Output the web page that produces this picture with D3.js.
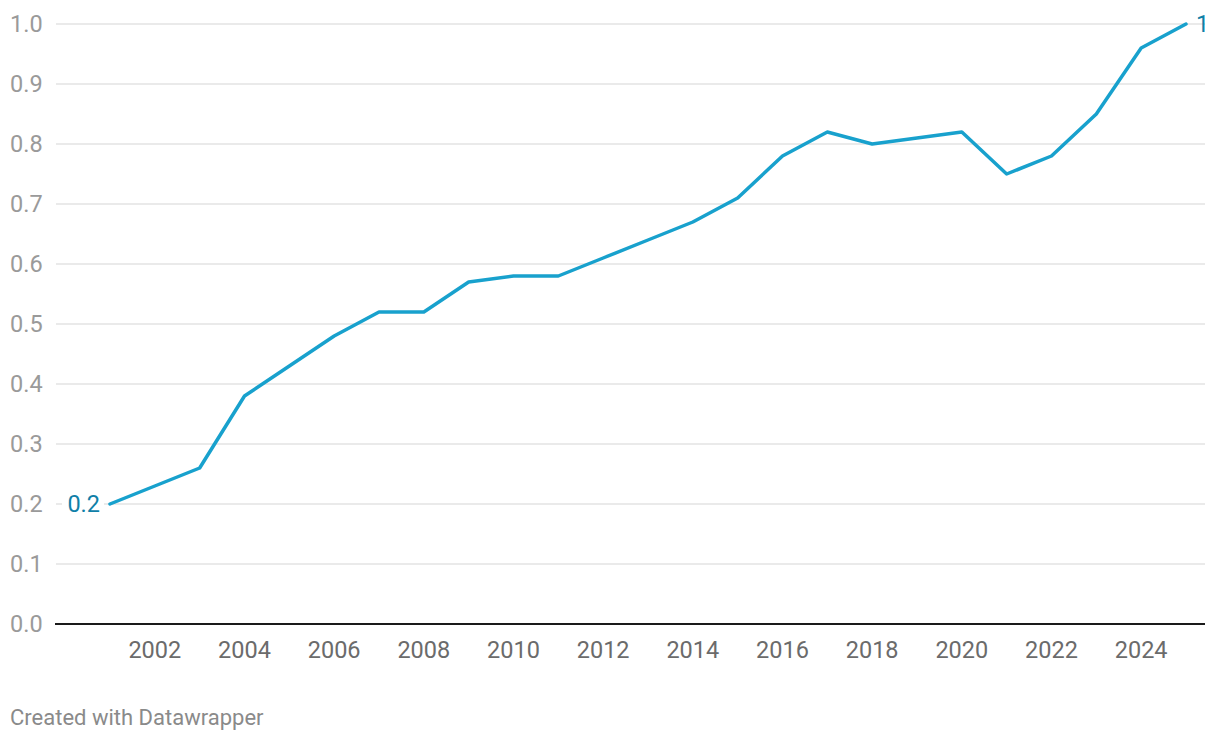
<!DOCTYPE html>
<html>
<head>
<meta charset="utf-8">
<script src="https://cdn.jsdelivr.net/npm/d3@7"></script>
<style>
  html, body { margin: 0; padding: 0; background: #fff; }
  svg { display: block; font-family: Roboto, "Noto Sans", sans-serif; }
</style>
</head>
<body>
<svg id="chart" width="1220" height="740"></svg>
<script>
const years = [2001,2002,2003,2004,2005,2006,2007,2008,2009,2010,2011,2012,2013,2014,2015,2016,2017,2018,2019,2020,2021,2022,2023,2024,2025];
const values = [0.2,0.23,0.26,0.38,0.43,0.48,0.52,0.52,0.57,0.58,0.58,0.61,0.64,0.67,0.71,0.78,0.82,0.80,0.81,0.82,0.75,0.78,0.85,0.96,1.0];
const yTicks = [0,0.1,0.2,0.3,0.4,0.5,0.6,0.7,0.8,0.9,1.0];
const xTicks = [2002,2004,2006,2008,2010,2012,2014,2016,2018,2020,2022,2024];
const footer = "Created with Datawrapper";

const svg = d3.select("#chart");
const x = d3.scaleLinear().domain([2001, 2025]).range([110, 1186]);
const y = d3.scaleLinear().domain([0, 1]).range([624, 24]);
const gridLeft = 56, gridRight = 1205;

// gridlines
svg.append("g").selectAll("line").data(yTicks.filter(d => d > 0)).join("line")
  .attr("x1", gridLeft).attr("x2", gridRight)
  .attr("y1", d => y(d)).attr("y2", d => y(d))
  .attr("stroke", "#e3e3e3").attr("stroke-width", 1.3);

// y labels
svg.append("g").selectAll("text").data(yTicks).join("text")
  .attr("x", 10).attr("y", d => y(d))
  .attr("dy", "0.35em")
  .attr("fill", "#9a9a9a").attr("font-size", 23.5)
  .text(d => d3.format(".1f")(d));

// baseline
svg.append("line")
  .attr("x1", gridLeft - 1).attr("x2", gridRight)
  .attr("y1", y(0)).attr("y2", y(0))
  .attr("stroke", "#1a1a1a").attr("stroke-width", 2);

// x labels
svg.append("g").selectAll("text").data(xTicks).join("text")
  .attr("x", d => x(d)).attr("y", 650)
  .attr("dy", "0.35em")
  .attr("text-anchor", "middle")
  .attr("fill", "#6b6b6b").attr("font-size", 23.5)
  .text(d => d);

// line
const line = d3.line().x((d, i) => x(years[i])).y(d => y(d));
svg.append("path").datum(values)
  .attr("d", line)
  .attr("fill", "none")
  .attr("stroke", "#18a1cd")
  .attr("stroke-width", 3.5)
  .attr("stroke-linejoin", "round")
  .attr("stroke-linecap", "round");

// end labels
const n = values.length - 1;
svg.append("rect")
  .attr("x", x(years[0]) - 48).attr("y", y(values[0]) - 13)
  .attr("width", 42).attr("height", 26).attr("fill", "#fff");
svg.append("text")
  .attr("x", x(years[0]) - 10).attr("y", y(values[0]))
  .attr("dy", "0.35em").attr("text-anchor", "end")
  .attr("fill", "#0f80a8").attr("font-size", 23.5)
  .text(d3.format("")(values[0]));
svg.append("text")
  .attr("x", x(years[n]) + 10).attr("y", y(values[n]))
  .attr("dy", "0.35em").attr("text-anchor", "start")
  .attr("fill", "#0f80a8").attr("font-size", 23.5)
  .text(d3.format("")(values[n]));

// footer
svg.append("text")
  .attr("x", 10).attr("y", 717).attr("dy", "0.35em")
  .attr("fill", "#8a8a8a").attr("font-size", 22)
  .text(footer);
</script>
</body>
</html>
